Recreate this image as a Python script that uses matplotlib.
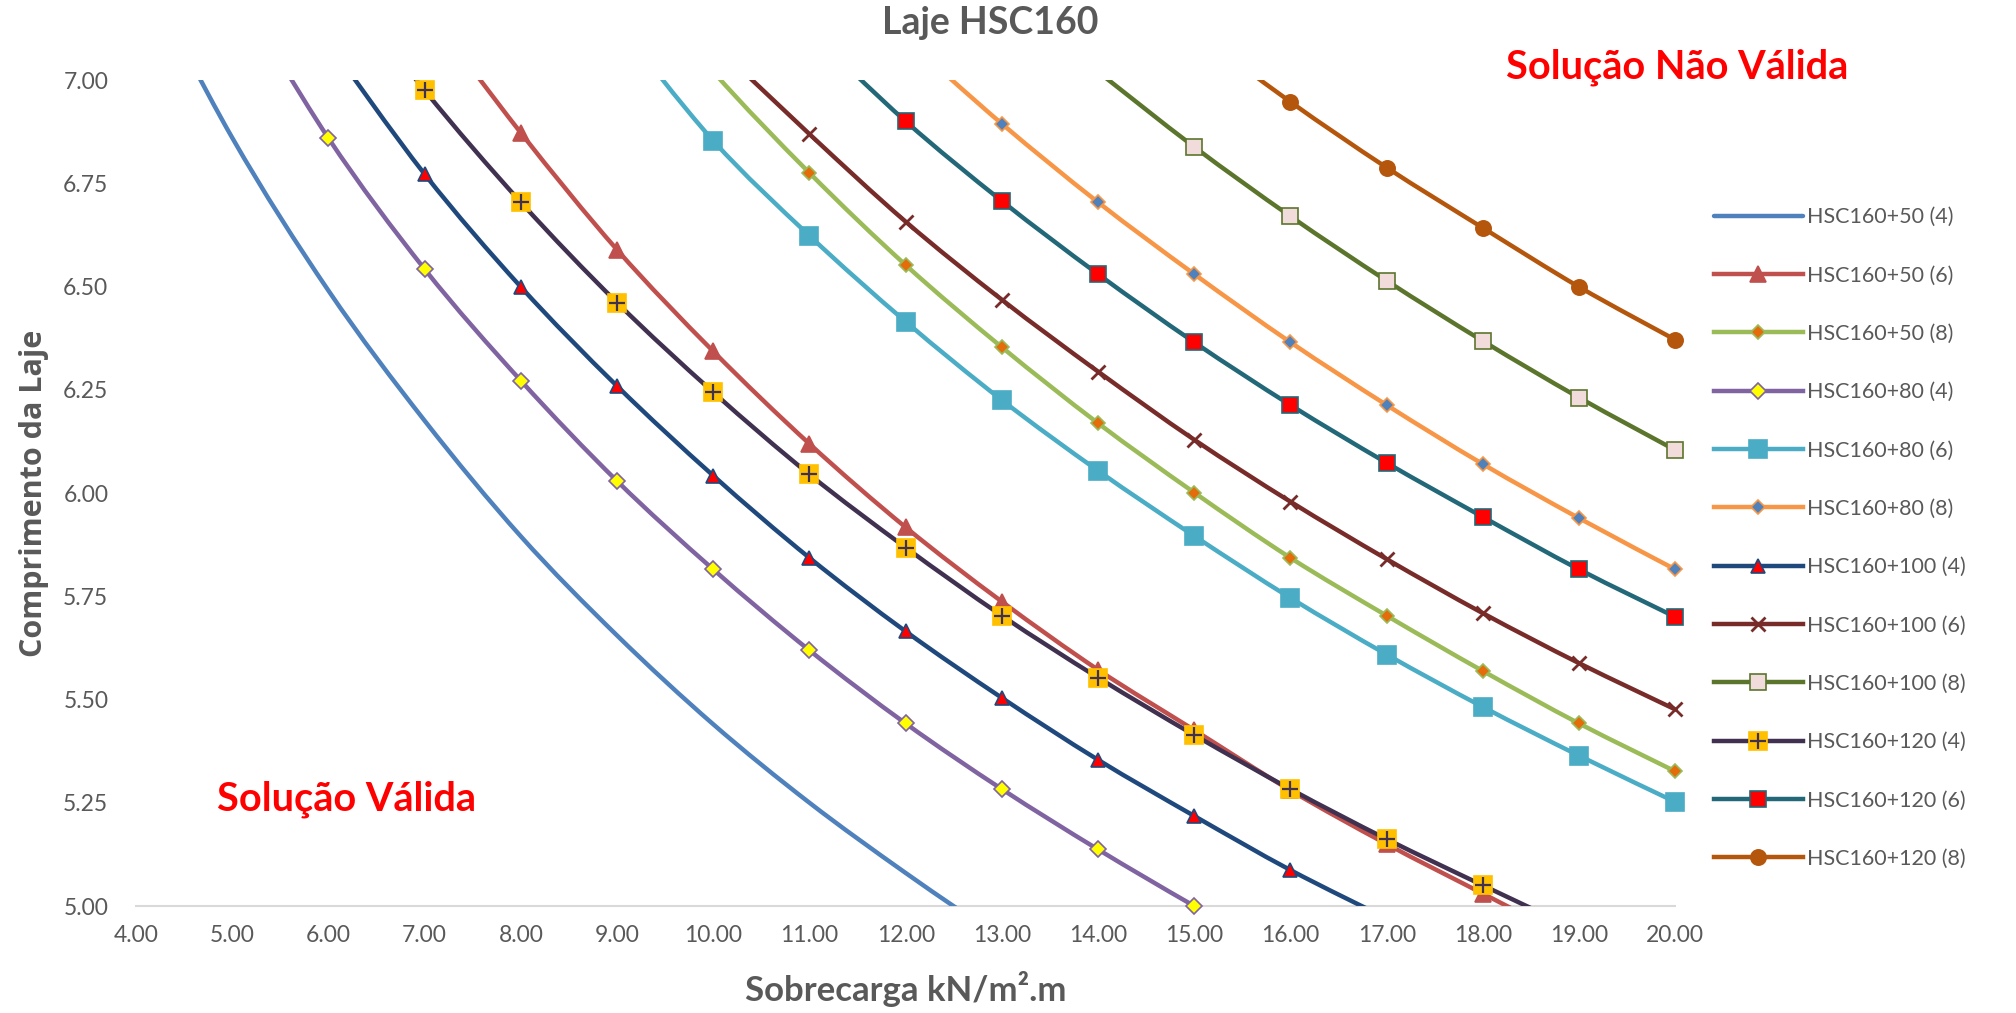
import matplotlib
matplotlib.use("Agg")
import matplotlib.pyplot as plt
import numpy as np
from matplotlib.path import Path
from matplotlib.patches import PathPatch
from matplotlib.lines import Line2D
from matplotlib.legend_handler import HandlerTuple

# Dados (Sobrecarga x Comprimento da laje)
labels = ['HSC160+50 (4)', 'HSC160+50 (6)', 'HSC160+50 (8)',
          'HSC160+80 (4)', 'HSC160+80 (6)', 'HSC160+80 (8)',
          'HSC160+100 (4)', 'HSC160+100 (6)', 'HSC160+100 (8)',
          'HSC160+120 (4)', 'HSC160+120 (6)', 'HSC160+120 (8)']

x_50_4 = [4, 5, 6, 7, 8, 9, 10, 11, 12, 13]
y_50_4 = [7.30, 6.86, 6.49, 6.175, 5.895, 5.655, 5.44, 5.25, 5.08, 4.92]

x_50_6 = [7, 8, 9, 10, 11, 12, 13, 14, 15, 16, 17, 18, 19]
y_50_6 = [7.18, 6.872, 6.589, 6.343, 6.119, 5.917, 5.737, 5.572, 5.426, 5.28, 5.15, 5.03, 4.91]

x_50_8 = [9, 10, 11, 12, 13, 14, 15, 16, 17, 18, 19, 20]
y_50_8 = [7.30, 7.02, 6.775, 6.552, 6.353, 6.169, 6.001, 5.843, 5.703, 5.569, 5.442, 5.326]

x_80_4 = [5, 6, 7, 8, 9, 10, 11, 12, 13, 14, 15, 16]
y_80_4 = [7.24, 6.859, 6.542, 6.272, 6.029, 5.815, 5.619, 5.442, 5.283, 5.137, 5.00, 4.87]

x_80_6 = [9, 10, 11, 12, 13, 14, 15, 16, 17, 18, 19, 20]
y_80_6 = [7.14, 6.853, 6.623, 6.415, 6.225, 6.054, 5.896, 5.746, 5.609, 5.482, 5.364, 5.252]

x_80_8 = [12, 13, 14, 15, 16, 17, 18, 19, 20]
y_80_8 = [7.10, 6.894, 6.704, 6.530, 6.365, 6.213, 6.070, 5.939, 5.815]

x_100_4 = [6, 7, 8, 9, 10, 11, 12, 13, 14, 15, 16, 17]
y_100_4 = [7.09, 6.772, 6.499, 6.259, 6.042, 5.843, 5.665, 5.504, 5.354, 5.218, 5.087, 4.97]

x_100_6 = [10, 11, 12, 13, 14, 15, 16, 17, 18, 19, 20]
y_100_6 = [7.09, 6.869, 6.657, 6.468, 6.294, 6.129, 5.979, 5.840, 5.709, 5.588, 5.476]

x_100_8 = [14, 15, 16, 17, 18, 19, 20]
y_100_8 = [7.02, 6.838, 6.670, 6.514, 6.368, 6.231, 6.104]

x_120_4 = [6, 7, 8, 9, 10, 11, 12, 13, 14, 15, 16, 17, 18, 19]
y_120_4 = [7.28, 6.975, 6.704, 6.461, 6.244, 6.045, 5.868, 5.703, 5.553, 5.414, 5.283, 5.162, 5.050, 4.94]

x_120_6 = [11, 12, 13, 14, 15, 16, 17, 18, 19, 20]
y_120_6 = [7.12, 6.900, 6.707, 6.530, 6.365, 6.213, 6.073, 5.942, 5.815, 5.700]

x_120_8 = [15, 16, 17, 18, 19, 20]
y_120_8 = [7.12, 6.947, 6.788, 6.642, 6.499, 6.371]

xs = [x_50_4, x_50_6, x_50_8, x_80_4, x_80_6, x_80_8,
      x_100_4, x_100_6, x_100_8, x_120_4, x_120_6, x_120_8]
ys = [y_50_4, y_50_6, y_50_8, y_80_4, y_80_6, y_80_8,
      y_100_4, y_100_6, y_100_8, y_120_4, y_120_6, y_120_8]

x_ticks = [4, 5, 6, 7, 8, 9, 10, 11, 12, 13, 14, 15, 16, 17, 18, 19, 20]
y_ticks = [5.00, 5.25, 5.50, 5.75, 6.00, 6.25, 6.50, 6.75, 7.00]

# estilos (cor da linha, marcador, tamanho, cor de preenchimento, cor da borda)
styles = [
    ('#4F81BD', None, 0, None, None),
    ('#C0504D', '^', 11, '#C0504D', '#C0504D'),
    ('#9BBB59', 'D', 7, '#E46C0A', '#9BBB59'),
    ('#8064A2', 'D', 8, '#FFFF00', '#8064A2'),
    ('#4BACC6', 's', 13, '#4BACC6', '#4BACC6'),
    ('#F79646', 'D', 7, '#4F81BD', '#F79646'),
    ('#1F497D', '^', 10, '#FF0000', '#1F497D'),
    ('#772C2A', 'x', 10, '#772C2A', '#772C2A'),
    ('#5B752D', 's', 11, '#F2DCDB', '#5B752D'),
    ('#403151', 's', 13, '#FFC000', '#FFC000'),
    ('#226878', 's', 11, '#FF0000', '#226878'),
    ('#B5560D', 'o', 11, '#B5560D', '#B5560D'),
]

GRAY = '#595959'
plt.rcParams['font.family'] = ['Lato', 'DejaVu Sans']


def smooth_path(x, y):
    # curva suavizada tipo Excel (segmentos de Bezier cubicos)
    p = np.column_stack([x, y]).astype(float)
    n = len(p)
    verts = [p[0]]
    codes = [Path.MOVETO]
    for i in range(n - 1):
        p0 = p[i - 1] if i > 0 else p[i]
        p3 = p[i + 2] if i + 2 < n else p[i + 1]
        c1 = p[i] + (p[i + 1] - p0) / 6.0
        c2 = p[i + 1] - (p3 - p[i]) / 6.0
        verts += [c1, c2, p[i + 1]]
        codes += [Path.CURVE4] * 3
    return Path(verts, codes)


fig = plt.figure(figsize=(20.16, 10.13), dpi=100)
ax = fig.add_axes([0.0675, 0.1056, 0.7635, 0.8154])

handles = []
for k, (x, y) in enumerate(zip(xs, ys)):
    color, mk, ms, mfc, mec = styles[k]
    z = 2 + k
    ax.add_patch(PathPatch(smooth_path(x, y), fill=False, edgecolor=color,
                           lw=3.2, zorder=z, capstyle='round'))
    xa = np.array(x)
    ya = np.array(y)
    m = (ya >= 4.99) & (ya <= 7.01)
    if mk is not None:
        mew = 2 if mk == 'x' else 1.2
        ax.plot(xa[m], ya[m], ls='none', marker=mk, ms=ms, mfc=mfc, mec=mec,
                mew=mew, zorder=z + 0.5, clip_on=False)
        h = Line2D([], [], color=color, lw=3.2, marker=mk, ms=ms, mfc=mfc,
                   mec=mec, mew=mew)
        if k == 9:
            ax.plot(xa[m], ya[m], ls='none', marker='+', ms=12, mec='#403151',
                    mew=1.6, zorder=z + 0.6, clip_on=False)
            h2 = Line2D([], [], ls='none', marker='+', ms=12, mec='#403151', mew=1.6)
            h = (h, h2)
        handles.append(h)
    else:
        handles.append(Line2D([], [], color=color, lw=3.2, solid_capstyle='round'))

ax.set_xlim(4, 20)
ax.set_ylim(5, 7)
ax.set_xticks(x_ticks)
ax.set_yticks(y_ticks)
ax.set_xticklabels(['%.2f' % v for v in x_ticks])
ax.set_yticklabels(['%.2f' % v for v in y_ticks])
ax.tick_params(length=0, labelsize=16.5, labelcolor=GRAY, pad=14)
ax.tick_params(axis='y', pad=20)
for s in ['top', 'right', 'left']:
    ax.spines[s].set_visible(False)
ax.spines['bottom'].set_color('#D9D9D9')
ax.spines['bottom'].set_linewidth(1.5)
ax.spines['bottom'].set_zorder(1)

fig.text(0.491, 0.977, 'Laje HSC160', ha='center', va='center',
         fontsize=27, fontweight='bold', color=GRAY)
ax.set_xlabel('Sobrecarga kN/m².m', fontsize=25, fontweight='bold',
              color=GRAY, labelpad=18)
ax.set_ylabel('Comprimento da Laje', fontsize=22, fontweight='bold',
              color=GRAY, family=['Open Sans', 'DejaVu Sans'], labelpad=10)

fig.text(0.832, 0.934, 'Solução Não Válida', ha='center', va='center',
         fontsize=28.5, fontweight='bold', color='#FF0000')
fig.text(0.172, 0.211, 'Solução Válida', ha='center', va='center',
         fontsize=28.5, fontweight='bold', color='#FF0000')

leg = fig.legend(handles, labels, loc='upper left', bbox_to_anchor=(0.845, 0.806),
                 frameon=False, fontsize=15.5, handlelength=4.1, handletextpad=0.2,
                 labelspacing=1.78, borderpad=0, numpoints=1,
                 handler_map={tuple: HandlerTuple(ndivide=1, pad=0)})
for t in leg.get_texts():
    t.set_color(GRAY)

fig.savefig('out.png', dpi=100)
